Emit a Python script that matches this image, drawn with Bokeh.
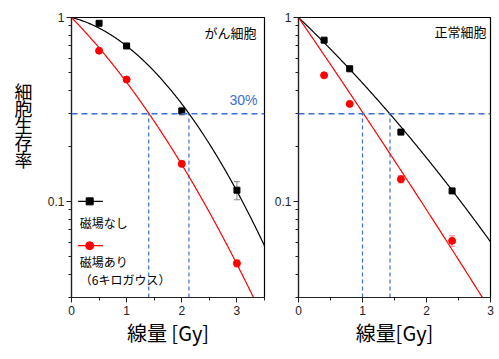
import numpy as np
from bokeh.plotting import figure
from bokeh.layouts import row
from bokeh.models import (FixedTicker, CustomJSTickFormatter, Label, Span,
                          Whisker, ColumnDataSource)
from bokeh.core.properties import value
from bokeh.embed import file_html
from bokeh.resources import INLINE

# ---------------- data ----------------
# cancer cells (がん細胞)
dose_c = [0.5, 1.0, 2.0, 3.0]
surv_c_off = [0.93, 0.70, 0.31, 0.115]
err_c_off = [0.0, 0.0, 0.015, 0.013]
surv_c_on = [0.66, 0.46, 0.16, 0.046]
err_c_on = [0.0, 0.0, 0.006, 0.002]
fit_c_off = (0.173, 0.184)   # linear-quadratic fit: alpha, beta
fit_c_on = (0.704, 0.1086)
d30_c = [1.40, 2.13]

# normal cells (正常細胞)
dose_n = [0.4, 0.8, 1.6, 2.4]
surv_n_off = [0.753, 0.526, 0.238, 0.114]
err_n_off = [0.0, 0.0, 0.0, 0.003]
surv_n_on = [0.485, 0.339, 0.132, 0.061]
err_n_on = [0.0, 0.0, 0.006, 0.004]
fit_n_off = (0.763, 0.0578)
fit_n_on = (1.167, 0.0186)
d30_n = [1.0, 1.43]

level_30 = 0.3
y_major = [0.1, 1]
y_minor = [0.03, 0.04, 0.05, 0.06, 0.07, 0.08, 0.09,
           0.2, 0.3, 0.4, 0.5, 0.6, 0.7, 0.8, 0.9]
y_title_chars = list("細胞生存率")

BLUE = "#3b6fd6"
RED = "#ff0000"
JP = "Noto Sans CJK JP"
LAT = "Liberation Sans"


def lq(params, d):
    a, b = params
    return np.exp(-a * d - b * d * d)


def make_fig(xmax, width, bl, br, xlabel, x_major, x_minor):
    p = figure(width=width, height=359, x_range=(0, xmax), y_range=(0.03, 1),
               y_axis_type="log", output_backend="svg", toolbar_location=None,
               min_border_left=bl, min_border_right=br, min_border_top=17,
               min_border_bottom=62)
    p.grid.visible = False
    p.outline_line_color = "black"
    p.outline_line_width = 1.2
    p.outline_line_alpha = 1
    p.background_fill_color = "white"
    p.border_fill_color = "white"
    p.yaxis.ticker = FixedTicker(ticks=y_major, minor_ticks=y_minor)
    p.yaxis.formatter = CustomJSTickFormatter(code="return tick.toString();")
    p.xaxis.ticker = FixedTicker(ticks=x_major, minor_ticks=x_minor)
    for ax in (p.xaxis[0], p.yaxis[0]):
        ax.major_tick_in = 0
        ax.major_tick_out = 5
        ax.minor_tick_in = 0
        ax.minor_tick_out = 3
        ax.axis_line_color = "#222222"
        ax.axis_line_width = 1.2
        ax.major_tick_line_color = "#222222"
        ax.minor_tick_line_color = "#222222"
        ax.major_label_text_font = LAT
        ax.major_label_text_font_size = "12px"
        ax.major_label_text_color = "#222222"
        ax.major_label_standoff = 3
    p.yaxis.major_label_standoff = 2
    p.xaxis.axis_label = xlabel
    p.xaxis.axis_label_text_font = JP
    p.xaxis.axis_label_text_font_size = "20px"
    p.xaxis.axis_label_text_font_style = "normal"
    p.xaxis.axis_label_text_color = "black"
    p.xaxis.axis_label_standoff = 0
    return p


def add_data(p, xmax, dose, off, eoff, on, eon, foff, fon, d30):
    p.add_layout(Span(location=level_30, dimension="width", line_color=BLUE,
                      line_width=1.5, line_dash="6 4"))
    p.segment(x0=d30, y0=[0.03] * len(d30), x1=d30, y1=[level_30] * len(d30),
              line_color=BLUE, line_width=1.2, line_dash="4 3")
    d = np.linspace(0, xmax, 300)
    p.line(d, lq(foff, d), line_color="black", line_width=1.2)
    p.line(d, lq(fon, d), line_color=RED, line_width=1.2)
    src_off = ColumnDataSource(dict(x=dose, y=off,
                                    lo=[v - e for v, e in zip(off, eoff)],
                                    hi=[v + e for v, e in zip(off, eoff)]))
    src_on = ColumnDataSource(dict(x=dose, y=on,
                                   lo=[v - e for v, e in zip(on, eon)],
                                   hi=[v + e for v, e in zip(on, eon)]))
    w1 = Whisker(source=src_off, base="x", upper="hi", lower="lo",
                 line_color="#888888", line_width=1)
    w1.upper_head.size = 6
    w1.lower_head.size = 6
    w1.upper_head.line_color = "#888888"
    w1.lower_head.line_color = "#888888"
    w2 = Whisker(source=src_on, base="x", upper="hi", lower="lo",
                 line_color="#f08080", line_width=1)
    w2.upper_head.size = 6
    w2.lower_head.size = 6
    w2.upper_head.line_color = "#f08080"
    w2.lower_head.line_color = "#f08080"
    p.add_layout(w1)
    p.add_layout(w2)
    p.scatter("x", "y", source=src_off, marker="square", size=6,
              color="black")
    p.scatter("x", "y", source=src_on, marker="circle", size=7,
              color=RED)


# ---------------- y-axis title strip (vertical stacked characters) ----------
pt = figure(width=40, height=359, x_range=(0, 40), y_range=(359, 0),
            output_backend="svg", toolbar_location=None,
            min_border=0, min_border_left=0, min_border_right=0,
            min_border_top=0, min_border_bottom=0)
pt.axis.visible = False
pt.grid.visible = False
pt.outline_line_color = None
pt.background_fill_color = "white"
pt.border_fill_color = "white"
pt.text(x=[23] * 5, y=[94, 116, 138, 159, 181], text=y_title_chars,
        text_align="center", text_baseline="middle",
        text_font=value(JP), text_font_size="18px", text_color="black")

# ---------------- left panel: cancer cells ----------------
p1 = make_fig(3.5, 231, 31, 7, "線量 [Gy]", [0, 1, 2, 3], [0.5, 1.5, 2.5, 3.5])
add_data(p1, 3.5, dose_c, surv_c_off, err_c_off, surv_c_on, err_c_on,
         fit_c_off, fit_c_on, d30_c)
p1.add_layout(Label(x=3.5, y=1, x_offset=-8, y_offset=-15, text="がん細胞",
                    text_align="right", text_baseline="middle",
                    text_font=JP, text_font_size="13px", text_color="black"))
p1.add_layout(Label(x=3.5, y=level_30, x_offset=-7, y_offset=6, text="30%",
                    text_align="right", text_baseline="bottom",
                    text_font=LAT, text_font_size="14px", text_color=BLUE))

# legend (drawn manually, label below each symbol)
p1.line([0.12, 0.57], [0.1, 0.1], line_color="black", line_width=1.2)
p1.scatter([0.33], [0.1], marker="square", size=7, color="black")
p1.line([0.12, 0.57], [0.0574, 0.0574], line_color=RED, line_width=1.2)
p1.scatter([0.33], [0.0574], marker="circle", size=8, color=RED)
for txt, yy in (("磁場なし", 0.077), ("磁場あり", 0.047),
                ("（6キロガウス）", 0.0377)):
    p1.add_layout(Label(x=0.15, y=yy, text=txt, text_align="left",
                        text_baseline="middle", text_font=JP,
                        text_font_size="12px", text_color="black"))

# ---------------- right panel: normal cells ----------------
p2 = make_fig(3.0, 228, 26, 9, "線量[Gy]", [0, 1, 2, 3], [0.5, 1.5, 2.5])
add_data(p2, 3.0, dose_n, surv_n_off, err_n_off, surv_n_on, err_n_on,
         fit_n_off, fit_n_on, d30_n)
p2.add_layout(Label(x=3.0, y=1, x_offset=-4, y_offset=-14, text="正常細胞",
                    text_align="right", text_baseline="middle",
                    text_font=JP, text_font_size="13px", text_color="black"))

layout = row(pt, p1, p2, spacing=0)
open("out.html", "w").write(file_html(layout, INLINE))
